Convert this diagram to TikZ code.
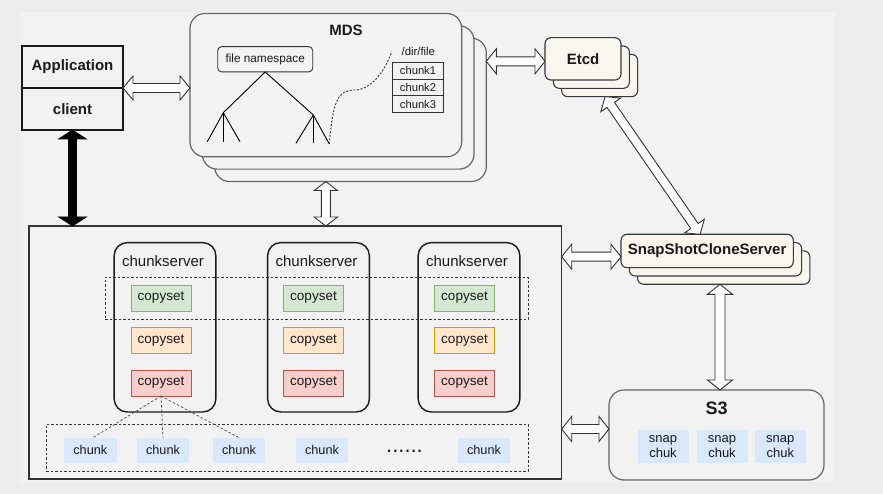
\documentclass[tikz,border=0pt]{standalone}
\usepackage{fontspec}
\setmainfont{Liberation Sans}
\usetikzlibrary{calc}

\definecolor{bgout}{HTML}{EDEDED}
\definecolor{bgin}{HTML}{F2F2F2}
\definecolor{txt}{HTML}{1A1A1A}
\definecolor{mdsline}{HTML}{666666}
\definecolor{mdsfill}{HTML}{F3F3F3}
\definecolor{cream}{HTML}{F9F7ED}
\definecolor{creamline}{HTML}{36393D}
\definecolor{greenf}{HTML}{D5E8D4}
\definecolor{greenl}{HTML}{82B366}
\definecolor{orangef}{HTML}{FFE6CC}
\definecolor{orangel}{HTML}{D79B00}
\definecolor{redf}{HTML}{F8CECC}
\definecolor{redl}{HTML}{B85450}
\definecolor{bluef}{HTML}{DAE8FC}
\definecolor{darkline}{HTML}{333333}

% double flex arrow between two points: [style]{from}{to}{head length}{head half width}{shaft half width}
\newcommand\flexarrow[6][]{%
  \draw[flexarr,#1] let \p1=#2, \p2=#3,
    \n1={atan2(\y2-\y1,\x2-\x1)}, \n2={veclen(\x2-\x1,\y2-\y1)} in
       ([shift={(\p1)},rotate=\n1]0pt,0pt)
    -- ([shift={(\p1)},rotate=\n1]#4,#5)
    -- ([shift={(\p1)},rotate=\n1]#4,#6)
    -- ([shift={(\p1)},rotate=\n1]\n2-#4,#6)
    -- ([shift={(\p1)},rotate=\n1]\n2-#4,#5)
    -- ([shift={(\p1)},rotate=\n1]\n2,0pt)
    -- ([shift={(\p1)},rotate=\n1]\n2-#4,-#5)
    -- ([shift={(\p1)},rotate=\n1]\n2-#4,-#6)
    -- ([shift={(\p1)},rotate=\n1]#4,-#6)
    -- ([shift={(\p1)},rotate=\n1]#4,-#5)
    -- cycle;}

\begin{document}
\begin{tikzpicture}[x=1pt,y=-1pt,
  every node/.style={inner sep=0pt, outer sep=0pt, text=txt},
  titlef/.style={font=\fontsize{15}{18}\selectfont\bfseries},
  appbox/.style={draw=black!90, line width=1.3pt, minimum width=101pt, minimum height=42pt, titlef},
  mdsbox/.style={draw=mdsline, fill=mdsfill, line width=1.2pt, rounded corners=15pt,
                 minimum width=271.7pt, minimum height=143.4pt},
  etcdbox/.style={draw=creamline, fill=cream, line width=1.1pt, rounded corners=6pt,
                 minimum width=76pt, minimum height=42.3pt},
  snapbox/.style={draw=creamline, fill=cream, line width=1.1pt, rounded corners=6pt,
                 minimum width=172.3pt, minimum height=33.4pt},
  csbox/.style={draw=black!90, line width=1.4pt, rounded corners=13pt,
                 minimum width=101.7pt, minimum height=169.3pt},
  cslabel/.style={font=\fontsize{15}{18}\selectfont},
  copyset/.style={line width=0.9pt, minimum width=60pt, minimum height=26pt,
                 font=\fontsize{13.5}{16}\selectfont},
  csg/.style={copyset, draw=greenl, fill=greenf},
  cso/.style={copyset, draw=orangel, fill=orangef},
  csr/.style={copyset, draw=redl, fill=redf},
  chunkbox/.style={fill=bluef, minimum width=52.5pt, minimum height=25pt,
                 font=\fontsize{12.7}{15}\selectfont},
  snapchunk/.style={fill=bluef, minimum width=51pt, minimum height=33pt, align=center,
                 font=\fontsize{13}{15}\selectfont},
  tablecell/.style={draw=darkline, line width=0.8pt, minimum width=50.6pt, minimum height=16.8pt,
                 font=\fontsize{11.2}{13}\selectfont},
  dashbox/.style={draw=darkline, line width=0.7pt, dash pattern=on 2.5pt off 2pt},
  dashlink/.style={draw=darkline!90, line width=0.7pt, dash pattern=on 2.5pt off 2pt},
  treeline/.style={draw=black, line width=0.9pt},
  flexarr/.style={draw=darkline, fill=white, line width=0.9pt, line join=miter},
  blackarr/.style={draw=black, fill=black, line width=0.6pt},
]
\useasboundingbox (0,0) rectangle (883,494);
\fill[bgout] (0,0) rectangle (883,494);
\fill[bgin] (20,12) rectangle (835,482);

% ---------- Application / client ----------
\node[appbox] (app) at (72.5,67) {Application};
\node[appbox] (client) at (72.5,109) {client};

% ---------- MDS ----------
\node[mdsbox] (mds3) at (350.45,109.85) {};
\node[mdsbox] (mds2) at (338.15,97.45) {};
\node[mdsbox] (mds1) at (325.85,85.15) {};
\node[titlef] (mdst) at (346,30.7) {MDS};
\node[draw=darkline, line width=0.9pt, rounded corners=4pt, minimum width=95pt, minimum height=25.3pt,
      font=\fontsize{11.8}{14}\selectfont] (fns) at (265.2,59.3) {file namespace};
\coordinate (tl) at (223.3,112.7);
\coordinate (tr) at (313.3,115);
\coordinate (tl1) at (207.3,141.7);
\coordinate (tl2) at (223.3,141.7);
\coordinate (tl3) at (240,141.7);
\coordinate (tr1) at (296,143.3);
\coordinate (tr2) at (313.3,143.3);
\coordinate (tr3) at (329.3,144);
\draw[treeline] (fns.south) -- (tl);
\draw[treeline] (fns.south) -- (tr);
\draw[treeline] (tl) -- (tl1);
\draw[treeline] (tl) -- (tl2);
\draw[treeline] (tl) -- (tl3);
\draw[treeline] (tr) -- (tr1);
\draw[treeline] (tr) -- (tr2);
\draw[treeline] (tr) -- (tr3);
\node[font=\fontsize{11.3}{13}\selectfont] (dirfile) at (418.3,51.7) {/dir/file};
\node[tablecell] (c1) at (418,70.7) {chunk1};
\node[tablecell, anchor=north] (c2) at (c1.south) {chunk2};
\node[tablecell, anchor=north] (c3) at (c2.south) {chunk3};
\coordinate (dfend) at (391.7,51.7);
\draw[draw=darkline, line width=0.9pt, dash pattern=on 2pt off 1.6pt]
  (tr3) .. controls (333,100) and (338,90) .. (355,90)
        .. controls (370,90) and (385,72) .. (dfend);

% ---------- Etcd ----------
\node[etcdbox] (etcd3) at (599.65,75.5) {};
\node[etcdbox] (etcd2) at (591.35,67.2) {};
\node[etcdbox, titlef] (etcd1) at (583,58.85) {Etcd};

% ---------- SnapShotCloneServer ----------
\node[snapbox] (snap3) at (723.75,267.6) {};
\node[snapbox] (snap2) at (715.45,259.3) {};
\node[snapbox, titlef] (snap1) at (707.15,251) {SnapShotCloneServer};

% ---------- S3 ----------
\node[draw=mdsline, fill=bgin, line width=1.2pt, rounded corners=15pt, minimum width=215pt,
      minimum height=90pt] (s3) at (716.5,435) {};
\node[font=\fontsize{18}{20}\selectfont\bfseries] (s3t) at (716.7,408.3) {S3};
\node[snapchunk] (sc1) at (663,446.7) {snap\\chuk};
\node[snapchunk] (sc2) at (722,446.7) {snap\\chuk};
\node[snapchunk] (sc3) at (780.3,446.7) {snap\\chuk};

% ---------- storage cluster ----------
\node[draw=darkline, line width=1.5pt, minimum width=532.7pt, minimum height=253pt] (main) at (295.35,352.5) {};
\node[dashbox, minimum width=423pt, minimum height=42pt] (rowbox) at (316.5,298) {};
\node[dashbox, minimum width=482pt, minimum height=47pt] (chunkrow) at (287,447.5) {};

\node[csbox] (cs1) at (165,327.3) {};
\node[csbox] (cs2) at (318.5,327.3) {};
\node[csbox] (cs3) at (469,327.3) {};
\node[cslabel] (cs1t) at (163,261) {chunkserver};
\node[cslabel] (cs2t) at (316.5,261) {chunkserver};
\node[cslabel] (cs3t) at (467,261) {chunkserver};

\node[csg] (g1) at (161,298) {copyset};
\node[cso] (o1) at (161,340.5) {copyset};
\node[csr] (r1) at (161,383) {copyset};
\node[csg] (g2) at (313.5,298) {copyset};
\node[cso] (o2) at (313.5,340.5) {copyset};
\node[csr] (r2) at (313.5,383) {copyset};
\node[csg] (g3) at (464.5,298) {copyset};
\node[cso] (o3) at (464.5,340.5) {copyset};
\node[csr] (r3) at (464.5,383) {copyset};

\node[chunkbox] (k1) at (90.3,450.2) {chunk};
\node[chunkbox] (k2) at (163,450.2) {chunk};
\node[chunkbox] (k3) at (239,450.2) {chunk};
\node[chunkbox] (k4) at (322,450.2) {chunk};
\node[chunkbox] (k5) at (484,450.2) {chunk};
\node[font=\fontsize{22}{24}\selectfont, anchor=base] (dots) at (404.5,452) {......};

\draw[dashlink] (r1.south) -- ($(k1.north)+(2.5,0)$);
\draw[dashlink] (r1.south) -- (k2.north);
\draw[dashlink] (r1.south) -- (k3.north);

% ---------- connectors ----------
\flexarrow{(app.south east)}{(mds1.west |- app.south east)}{10pt}{12pt}{4.5pt}
\flexarrow{($(mds3.east |- etcd1.west)+(0,2.5)$)}{($(etcd1.west)+(0,2.5)$)}{10pt}{12.5pt}{4.5pt}
\flexarrow{(mds1.south |- mds3.south)}{(mds1.south |- main.north)}{9pt}{11.7pt}{4.5pt}
\flexarrow[blackarr]{(client.south)}{(client.south |- main.north)}{9pt}{14pt}{4pt}
\flexarrow{($(etcd3.south)+(5.4,0)$)}{($(snap1.north)+(-7,0)$)}{10pt}{12pt}{4.5pt}
\flexarrow{($(main.east |- snap1.west)+(0,5.7)$)}{($(snap1.west)+(0,5.7)$)}{10pt}{12.5pt}{4.5pt}
\coordinate (s3top) at ($(s3.north)+(3.5,0)$);
\flexarrow{(s3top |- snap3.south)}{(s3top)}{10pt}{12.5pt}{5pt}
\coordinate (s3w) at ($(s3.west)+(0,-6)$);
\flexarrow{(main.east |- s3w)}{(s3w)}{10pt}{12.5pt}{4.5pt}
\end{tikzpicture}
\end{document}
